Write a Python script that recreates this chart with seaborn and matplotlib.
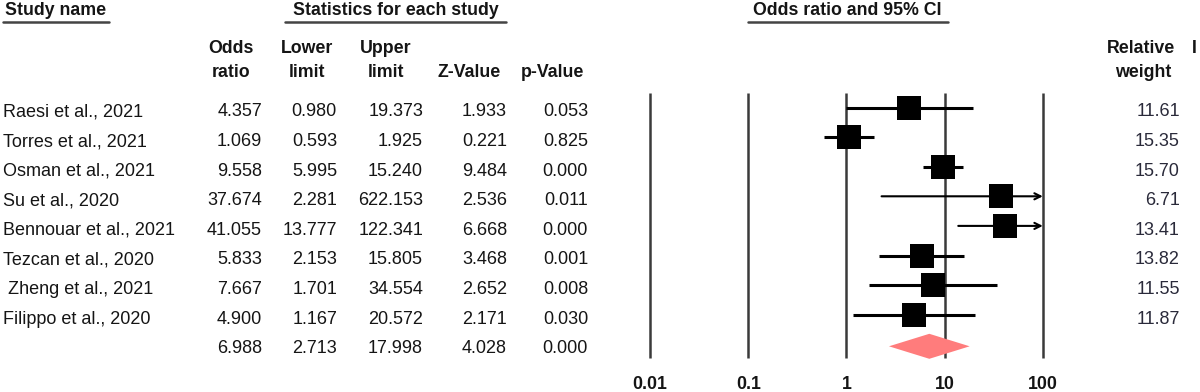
import numpy as np
import pandas as pd
import seaborn as sns
import matplotlib.pyplot as plt

sns.set_theme(style='white')
plt.rcParams['font.family'] = ['Liberation Sans', 'DejaVu Sans']

studies = ['Raesi et al., 2021', 'Torres et al., 2021', 'Osman et al., 2021', 'Su et al., 2020',
           'Bennouar et al., 2021', 'Tezcan et al., 2020', ' Zheng et al., 2021', 'Filippo et al., 2020']
odds = [4.357, 1.069, 9.558, 37.674, 41.055, 5.833, 7.667, 4.900]
lower = [0.980, 0.593, 5.995, 2.281, 13.777, 2.153, 1.701, 1.167]
upper = [19.373, 1.925, 15.240, 622.153, 122.341, 15.805, 34.554, 20.572]
zval = [1.933, 0.221, 9.484, 2.536, 6.668, 3.468, 2.652, 2.171]
pval = [0.053, 0.825, 0.000, 0.011, 0.000, 0.001, 0.008, 0.030]
weights = [11.61, 15.35, 15.70, 6.71, 13.41, 13.82, 11.55, 11.87]
summary = {'odds': 6.988, 'lower': 2.713, 'upper': 17.998, 'z': 4.028, 'p': 0.000}
ticks = [0.01, 0.1, 1, 10, 100]
tick_labels = ['0.01', '0.1', '1', '10', '100']

df = pd.DataFrame({'study': studies, 'odds': odds, 'lower': lower, 'upper': upper,
                   'z': zval, 'p': pval, 'weight': weights})
df['row'] = np.arange(len(df))
summary_row = len(df)

W, H = 1200, 392
Y0, DY = 107.5, 29.6


def row(p):
    return (p - Y0) / DY


fig = plt.figure(figsize=(W / 100, H / 100), dpi=100)
tax = fig.add_axes([0, 0, 1, 1])
tax.set_xlim(0, W)
tax.set_ylim(row(H), row(0))
tax.axis('off')

# forest axes: 0.01 at x=650px, about 98px per decade
left_px, right_px = 620, 1070
fax = fig.add_axes([left_px / W, 0, (right_px - left_px) / W, 1])
fax.set_xscale('log')
fax.set_xlim(10 ** (-2 - (650 - left_px) / 98.2), 10 ** (-2 + (right_px - 650) / 98.2))
fax.set_ylim(row(H), row(0))

fs = 13
hfs = 12.8
txt = '#151515'
base = 9.0 / DY  # baseline offset below row centre

# headers
tax.text(5, row(15), 'Study name', fontsize=hfs, fontweight='bold', va='baseline', ha='left', color=txt)
tax.plot([3, 109], [row(22), row(22)], color='#444', lw=1.8)
tax.text(396, row(15), 'Statistics for each study', fontsize=hfs, fontweight='bold', va='baseline', ha='center', color=txt)
tax.plot([285, 506], [row(22), row(22)], color='#444', lw=1.8)
tax.text(847, row(15), 'Odds ratio and 95% CI', fontsize=hfs, fontweight='bold', va='baseline', ha='center', color=txt)
tax.plot([748, 948], [row(22), row(22)], color='#444', lw=1.8)

col_right = [262, 337, 423, 507, 588]
hdr_x = [231, 307, 386, 469, 553]
hdr_top = ['Odds', 'Lower', 'Upper', '', '']
hdr_bot = ['ratio', 'limit', 'limit', 'Z-Value', 'p-Value']
for x, t, b in zip(hdr_x, hdr_top, hdr_bot):
    tax.text(x, row(53), t, fontsize=hfs, fontweight='bold', ha='center', va='baseline', color=txt)
    tax.text(x, row(77), b, fontsize=hfs, fontweight='bold', ha='center', va='baseline', color=txt)
tax.text(1141, row(53), 'Relative', fontsize=hfs, fontweight='bold', ha='center', va='baseline', color=txt)
tax.text(1143, row(77), 'weight', fontsize=hfs, fontweight='bold', ha='center', va='baseline', color=txt)
tax.text(1192, row(53), 'I', fontsize=hfs, fontweight='bold', ha='left', va='baseline', color=txt)

# table rows
for _, r in df.iterrows():
    y = r['row'] + base
    tax.text(3, y, r['study'], fontsize=fs, ha='left', va='baseline', color=txt)
    for x, v in zip(col_right, [r['odds'], r['lower'], r['upper'], r['z'], r['p']]):
        tax.text(x, y, f'{v:.3f}', fontsize=fs, ha='right', va='baseline', color=txt)
    tax.text(1180, y, f'{r["weight"]:.2f}', fontsize=fs, ha='right', va='baseline', color='#2a2a3a')
for x, v in zip(col_right, [summary['odds'], summary['lower'], summary['upper'], summary['z'], summary['p']]):
    tax.text(x, summary_row + base, f'{v:.3f}', fontsize=fs, ha='right', va='baseline', color=txt)

# reference lines at decades
fax.vlines(ticks, row(93), row(358), color='#3a3a3a', lw=1.8)
for t, lab in zip(ticks, tick_labels):
    fax.text(t, row(389), lab, fontsize=hfs, fontweight='bold', ha='center', va='baseline', color=txt)

# confidence intervals (arrow when the upper limit runs past the axis)
xmax = ticks[-1]
for _, r in df.iterrows():
    if r['upper'] > xmax:
        fax.annotate('', xy=(xmax, r['row']), xytext=(r['lower'], r['row']),
                     arrowprops=dict(arrowstyle='->', color='black', lw=1.5, mutation_scale=11,
                                     shrinkA=0, shrinkB=0))
    else:
        fax.hlines(r['row'], r['lower'], r['upper'], color='black', lw=2.2)

sns.scatterplot(data=df, x='odds', y='row', marker='s', s=280, color='black', linewidth=0,
                ax=fax, legend=False, zorder=3)
fax.axis('off')

# summary diamond
dh = 12.5 / DY
sy = summary_row + 2 / DY
fax.fill([summary['lower'], summary['odds'], summary['upper'], summary['odds']],
         [sy, sy - dh, sy, sy + dh],
         color='#ff7c7c', lw=0, zorder=3)

fig.savefig('out.png', dpi=100)
